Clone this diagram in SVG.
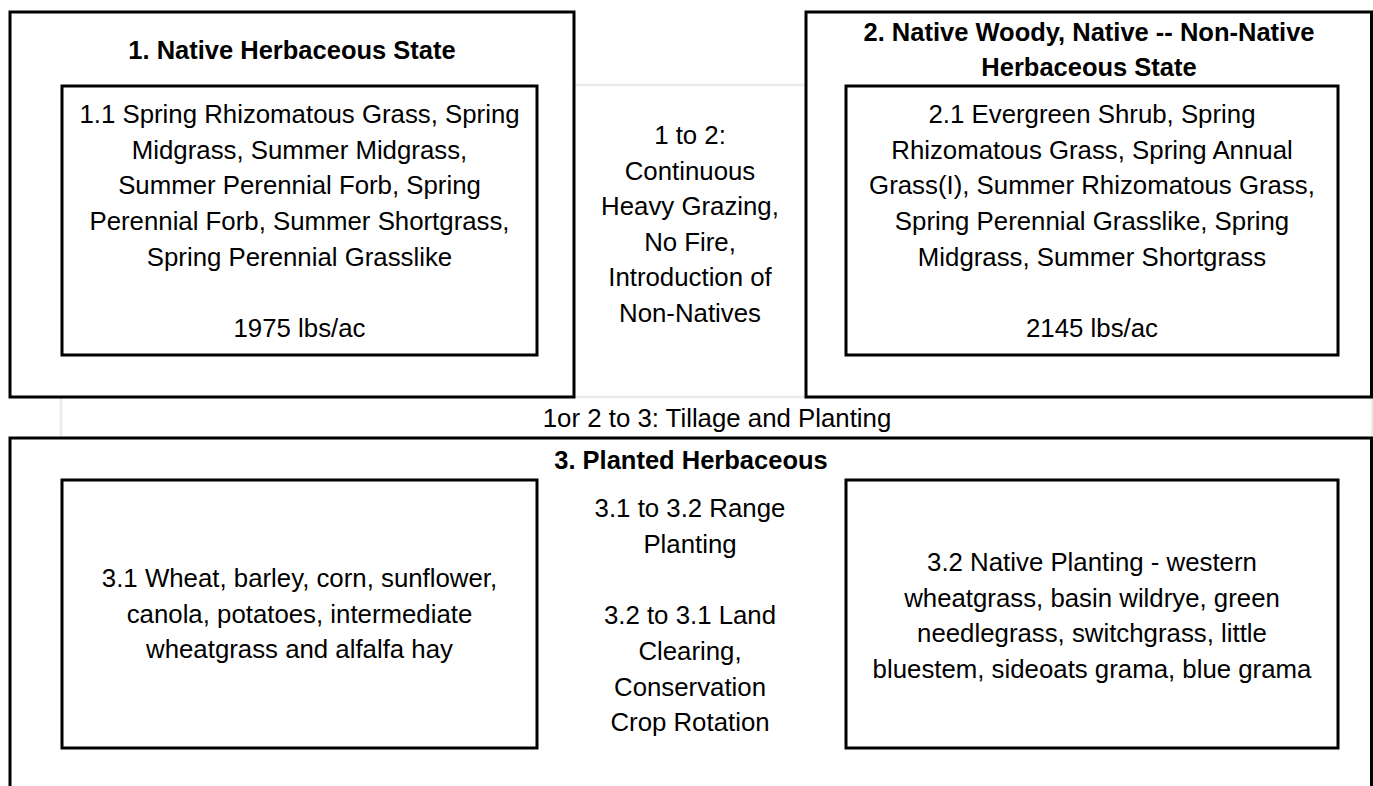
<svg xmlns="http://www.w3.org/2000/svg" width="1373" height="786" viewBox="0 0 1373 786">
<style>
.box{fill:none;stroke:#000;stroke-width:3}
.faint{fill:none;stroke:#ececec;stroke-width:2.5}
text{font-family:"Liberation Sans",Arial,sans-serif;font-size:25.8px;fill:#000;text-anchor:middle}
.b{font-weight:bold;font-size:25.5px}
</style>
<rect width="1373" height="786" fill="#fff"/>
<g id="connectors">
<line class="faint" x1="574" y1="85" x2="806" y2="85"/>
<rect class="faint" x="61" y="397" width="1311" height="41"/>
<g id="t12">
<text x="690" y="144">1 to 2:</text>
<text x="690" y="179.5">Continuous</text>
<text x="690" y="215">Heavy Grazing,</text>
<text x="690" y="250.5">No Fire,</text>
<text x="690" y="286">Introduction of</text>
<text x="690" y="321.5">Non-Natives</text>
</g>
<text id="t123" x="717" y="427">1or 2 to 3: Tillage and Planting</text>
</g>
<g id="state1">
<rect class="box" x="10" y="12" width="564" height="385"/>
<text class="b" x="292" y="59">1. Native Herbaceous State</text>
<g id="c11">
<rect class="box" x="62" y="86" width="475" height="269"/>
<text x="299.5" y="123">1.1 Spring Rhizomatous Grass, Spring</text>
<text x="299.5" y="158.7">Midgrass, Summer Midgrass,</text>
<text x="299.5" y="194.4">Summer Perennial Forb, Spring</text>
<text x="299.5" y="230">Perennial Forb, Summer Shortgrass,</text>
<text x="299.5" y="265.8">Spring Perennial Grasslike</text>
<text x="299.5" y="337">1975 lbs/ac</text>
</g>
</g>
<g id="state2">
<rect class="box" x="806" y="12" width="565.5" height="385"/>
<text class="b" x="1089" y="41">2. Native Woody, Native -- Non-Native</text>
<text class="b" x="1089" y="76">Herbaceous State</text>
<g id="c21">
<rect class="box" x="846" y="86" width="492" height="269"/>
<text x="1092" y="123">2.1 Evergreen Shrub, Spring</text>
<text x="1092" y="158.7">Rhizomatous Grass, Spring Annual</text>
<text x="1092" y="194.4">Grass(I), Summer Rhizomatous Grass,</text>
<text x="1092" y="230">Spring Perennial Grasslike, Spring</text>
<text x="1092" y="265.8">Midgrass, Summer Shortgrass</text>
<text x="1092" y="337">2145 lbs/ac</text>
</g>
</g>
<g id="state3">
<rect class="box" x="10" y="438" width="1361.5" height="360"/>
<text class="b" x="691" y="469">3. Planted Herbaceous</text>
<g id="c31">
<rect class="box" x="62" y="480" width="475" height="268"/>
<text x="299.5" y="587">3.1 Wheat, barley, corn, sunflower,</text>
<text x="299.5" y="622.5">canola, potatoes, intermediate</text>
<text x="299.5" y="658">wheatgrass and alfalfa hay</text>
</g>
<g id="t3132">
<text x="690" y="517">3.1 to 3.2 Range</text>
<text x="690" y="552.7">Planting</text>
<text x="690" y="624">3.2 to 3.1 Land</text>
<text x="690" y="659.8">Clearing,</text>
<text x="690" y="695.5">Conservation</text>
<text x="690" y="731.2">Crop Rotation</text>
</g>
<g id="c32">
<rect class="box" x="846" y="480" width="492" height="268"/>
<text x="1092" y="571">3.2 Native Planting - western</text>
<text x="1092" y="606.5">wheatgrass, basin wildrye, green</text>
<text x="1092" y="642">needlegrass, switchgrass, little</text>
<text x="1092" y="677.5">bluestem, sideoats grama, blue grama</text>
</g>
</g>
</svg>
